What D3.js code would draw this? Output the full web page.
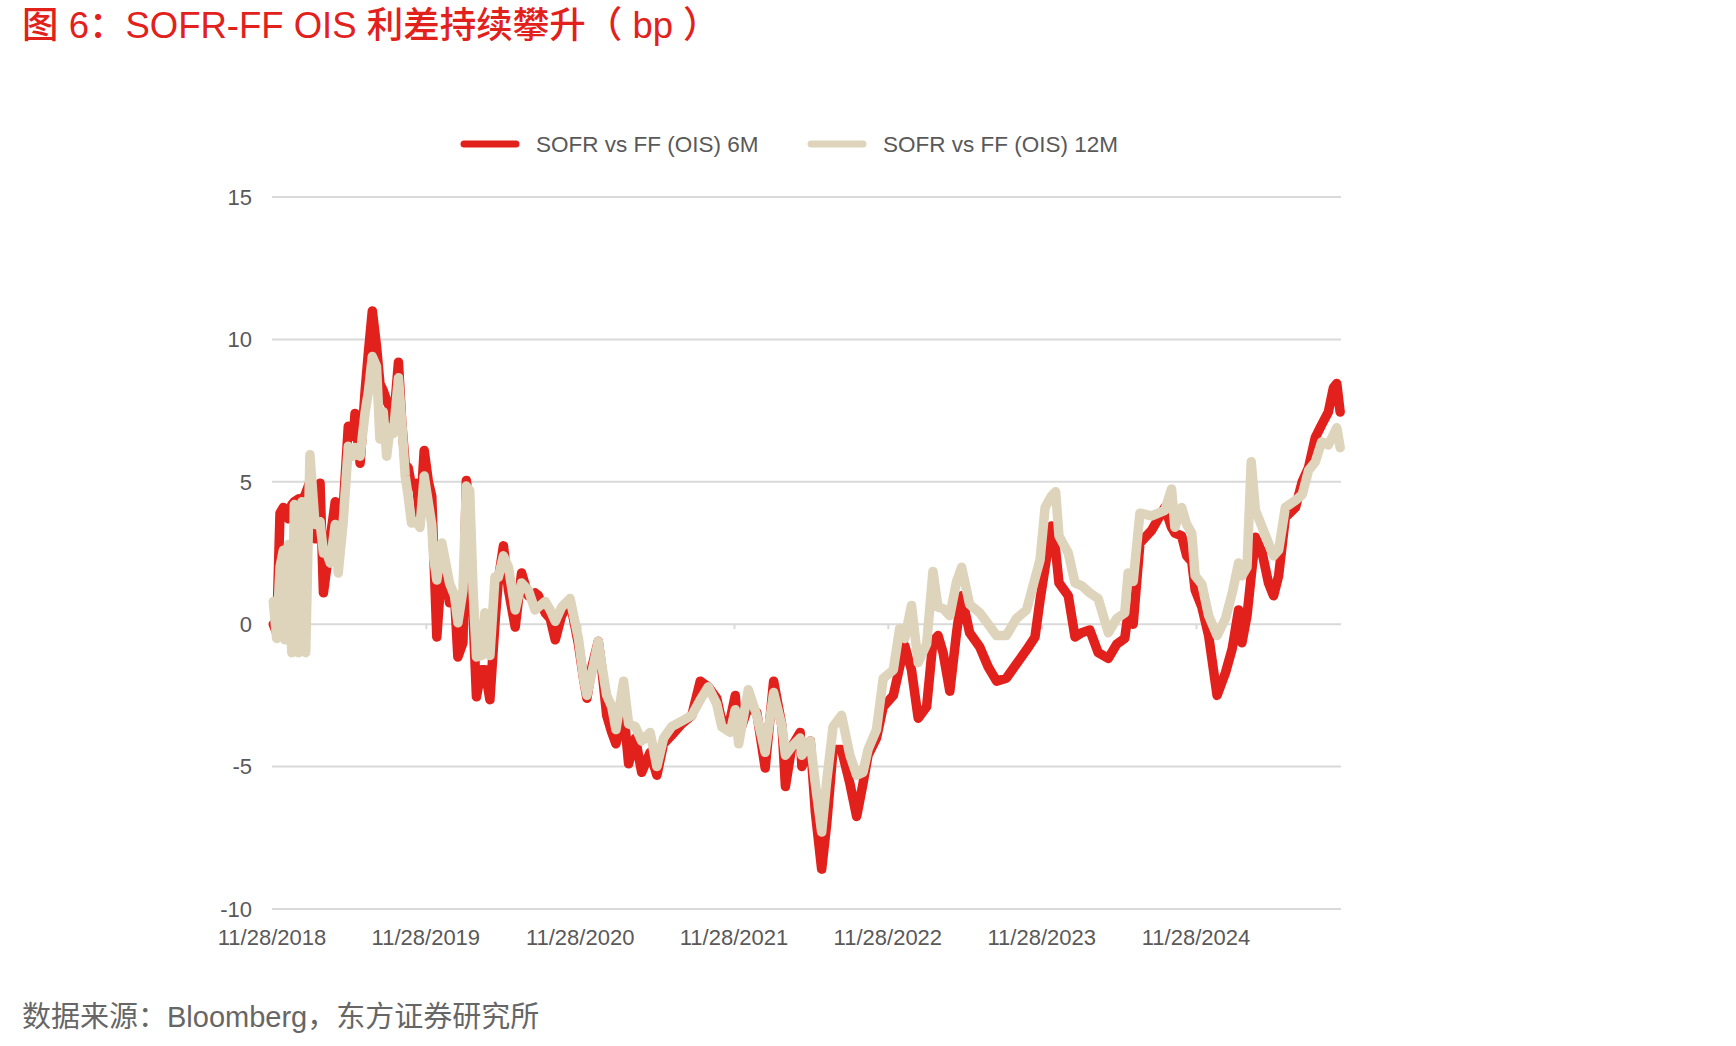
<!DOCTYPE html>
<html>
<head>
<meta charset="utf-8">
<script src="https://cdn.jsdelivr.net/npm/d3@7/dist/d3.min.js"></script>
<style>
  body { margin: 0; background: #fff; }
  text { font-family: "Liberation Sans", Arial, "Noto Sans CJK SC", sans-serif; }
</style>
</head>
<body>
<div id="chart"></div>
<script>
// 数据（从图上读取的估计值，bp）
const dates = [
  '2018-12-01','2018-12-09','2018-12-17','2018-12-25','2018-12-29','2019-01-06','2019-01-14','2019-01-20','2019-01-30','2019-02-07',
  '2019-02-16','2019-02-26','2019-03-10','2019-03-22','2019-03-30','2019-04-07','2019-04-15','2019-04-27','2019-05-04','2019-05-16',
  '2019-05-28','2019-06-09','2019-06-13','2019-06-25','2019-07-07','2019-07-15','2019-07-24','2019-08-03','2019-08-11','2019-08-19',
  '2019-08-27','2019-09-04','2019-09-12','2019-09-24','2019-10-02','2019-10-10','2019-10-17','2019-10-25','2019-11-06','2019-11-14',
  '2019-11-24','2019-12-04','2019-12-12','2019-12-16','2019-12-24','2020-01-05','2020-01-16','2020-01-23','2020-02-04','2020-02-12',
  '2020-02-24','2020-03-03','2020-03-11','2020-03-19','2020-03-27','2020-04-08','2020-04-16','2020-04-28','2020-05-10','2020-05-18',
  '2020-05-30','2020-06-11','2020-06-27','2020-07-12','2020-07-28','2020-08-13','2020-08-21','2020-09-06','2020-09-18','2020-09-30',
  '2020-10-15','2020-11-04','2020-11-24','2020-12-06','2020-12-14','2020-12-26','2021-01-10','2021-01-18','2021-01-30','2021-02-11',
  '2021-02-21','2021-03-11','2021-03-23','2021-04-08','2021-04-23','2021-05-13','2021-05-29','2021-06-14','2021-07-03','2021-07-27',
  '2021-08-20','2021-09-09','2021-09-28','2021-10-18','2021-10-30','2021-11-19','2021-12-01','2021-12-09','2022-01-01','2022-01-21',
  '2022-02-10','2022-03-02','2022-03-22','2022-03-30','2022-04-14','2022-05-04','2022-05-08','2022-05-28','2022-06-09','2022-06-24',
  '2022-07-06','2022-07-21','2022-08-10','2022-08-30','2022-09-15','2022-09-30','2022-10-12','2022-11-01','2022-11-17','2022-12-11',
  '2022-12-26','2023-01-07','2023-01-23','2023-02-08','2023-02-28','2023-03-15','2023-03-27','2023-04-08','2023-04-24','2023-05-10',
  '2023-05-22','2023-06-10','2023-07-04','2023-07-24','2023-08-13','2023-09-05','2023-09-29','2023-10-23','2023-11-12','2023-11-24',
  '2023-12-06','2023-12-21','2023-12-31','2024-01-08','2024-01-30','2024-02-15','2024-03-02','2024-03-21','2024-04-10','2024-05-04',
  '2024-05-24','2024-06-12','2024-06-20','2024-07-02','2024-07-18','2024-08-15','2024-09-15','2024-10-01','2024-10-09','2024-10-25',
  '2024-11-06','2024-11-18','2024-11-26','2024-12-12','2024-12-28','2025-01-17','2025-02-06','2025-02-22','2025-03-09','2025-03-17',
  '2025-03-29','2025-04-08','2025-04-18','2025-05-04','2025-05-19','2025-05-31','2025-06-12','2025-06-28','2025-07-22','2025-08-07',
  '2025-08-22','2025-09-07','2025-09-22','2025-10-08','2025-10-20','2025-10-28','2025-11-05'
];

const sofr6m = [
  0.0, -0.3, 3.9, 4.1, 3.9, 3.7, 4.2, 4.3, 4.4, 4.3,
  4.6, 5.0, 3.0, 4.95, 1.1, 2.0, 3.0, 4.3, 3.0, 4.1,
  6.95, 6.6, 7.4, 5.65, 8.2, 9.6, 11.0, 9.75, 8.45, 8.2,
  7.85, 7.6, 7.05, 9.2, 7.05, 5.6, 5.5, 4.85, 4.95, 3.65,
  6.1, 5.0, 4.5, 2.8, -0.45, 2.1, 1.7, 0.75, 1.0, -1.15,
  -0.65, 5.05, 4.0, 0.3, -2.55, -1.6, -1.6, -2.65, 0.05, 1.55,
  2.75, 1.2, -0.1, 1.8, 1.0, 1.1, 1.0, 0.4, 0.2, -0.55,
  0.3, 0.8, -0.7, -1.9, -2.6, -1.5, -0.6, -1.5, -3.2, -3.8,
  -4.2, -3.0, -4.9, -4.0, -5.2, -4.5, -5.3, -4.2, -3.9, -3.5,
  -3.2, -2.0, -2.2, -2.6, -3.4, -3.35, -2.5, -3.9, -2.9, -3.1,
  -5.05, -2.0, -3.6, -5.7, -4.3, -3.8, -5.0, -4.1, -6.6, -8.6,
  -7.0, -4.4, -4.4, -5.6, -6.75, -5.6, -4.6, -4.0, -2.9, -2.5,
  -1.5, -0.75, -1.6, -3.3, -2.9, -0.6, -0.4, -1.0, -2.35, -0.3,
  1.0, -0.3, -0.8, -1.5, -2.0, -1.9, -1.4, -0.9, -0.45, 0.85,
  2.0, 3.45, 2.6, 1.45, 1.0, -0.45, -0.3, -0.2, -1.0, -1.2,
  -0.7, -0.5, 0.4, 0.0, 2.85, 3.3, 4.1, 3.4, 3.2, 3.1,
  2.4, 2.2, 1.2, 0.6, -0.4, -2.5, -1.7, -0.85, 0.5, -0.65,
  0.3, 1.7, 3.05, 2.5, 1.45, 1.0, 1.7, 3.75, 4.1, 5.0,
  5.5, 6.55, 7.0, 7.45, 8.3, 8.45, 7.45
];

const sofr12m = [
  0.8, -0.5, 2.0, 2.6, -0.55, 2.8, -1.0, 4.2, -1.0, 4.3,
  -1.0, 5.95, 3.5, 3.6, 2.5, 2.5, 2.15, 3.5, 1.8, 3.6,
  6.25, 5.9, 6.2, 5.9, 7.45, 8.2, 9.4, 9.05, 6.5, 7.45,
  5.9, 6.9, 6.7, 8.65, 7.05, 5.2, 4.5, 3.55, 3.6, 3.4,
  5.2, 4.25, 3.5, 2.4, 1.55, 2.85, 2.0, 1.45, 1.0, 0.05,
  1.2, 4.85, 4.7, 1.2, -1.15, -1.1, 0.4, -1.1, 1.65, 1.65,
  2.4, 2.0, 0.5, 1.45, 1.2, 0.5, 0.6, 0.8, 0.5, 0.1,
  0.6, 0.9, -0.5, -1.9, -2.5, -1.7, -0.6, -1.4, -2.5, -2.9,
  -3.7, -2.0, -3.5, -3.6, -4.1, -3.8, -5.0, -4.0, -3.6, -3.4,
  -3.2, -2.65, -2.2, -2.8, -3.6, -3.8, -3.0, -4.2, -2.3, -3.2,
  -4.5, -2.4, -3.6, -4.6, -4.3, -4.0, -4.6, -4.1, -5.6, -7.3,
  -5.5, -3.6, -3.2, -4.6, -5.3, -5.2, -4.4, -3.7, -1.9, -1.6,
  -0.15, -0.5, 0.66, -1.35, -0.7, 1.85, 0.6, 0.55, 0.3, 1.5,
  2.0, 0.7, 0.4, 0.0, -0.4, -0.4, 0.2, 0.5, 1.6, 2.25,
  4.1, 4.5, 4.65, 3.1, 2.5, 1.45, 1.35, 1.1, 0.9, -0.3,
  0.2, 0.4, 1.8, 1.5, 3.9, 3.8, 4.0, 4.75, 3.4, 4.1,
  3.5, 3.2, 1.7, 1.4, 0.3, -0.4, 0.2, 1.1, 2.15, 1.7,
  2.0, 5.7, 4.0, 3.4, 2.85, 2.4, 2.6, 4.1, 4.35, 4.55,
  5.4, 5.7, 6.4, 6.3, 6.65, 6.9, 6.2
];

const yTicks = [-10, -5, 0, 5, 10, 15];
const xTickLabels = ['11/28/2018', '11/28/2019', '11/28/2020', '11/28/2021', '11/28/2022', '11/28/2023', '11/28/2024'];
const seriesNames = ['SOFR vs FF (OIS) 6M', 'SOFR vs FF (OIS) 12M'];
const seriesColors = ['#e3211c', '#ded4bb'];

const titleText = '图 6：SOFR-FF OIS 利差持续攀升（ bp ）';
const sourceText = '数据来源：Bloomberg，东方证券研究所';

// 尺寸
const width = 1736;
const height = 1046;
const plot = { left: 272, right: 1341, top: 197, bottom: 909 };

const svg = d3.select('#chart')
  .append('svg')
  .attr('width', width)
  .attr('height', height);

const parseDay = d3.timeParse('%Y-%m-%d');
const parseTick = d3.timeParse('%m/%d/%Y');

const x = d3.scaleTime()
  .domain([parseTick('11/28/2018'), parseDay('2025-11-07')])
  .range([plot.left, plot.right]);

const y = d3.scaleLinear()
  .domain([-10, 15])
  .range([plot.bottom, plot.top]);

// 网格线
svg.append('g')
  .selectAll('line')
  .data(yTicks)
  .enter()
  .append('line')
  .attr('x1', plot.left)
  .attr('x2', plot.right)
  .attr('y1', d => y(d))
  .attr('y2', d => y(d))
  .attr('stroke', '#d9d9d9')
  .attr('stroke-width', 2);

// y 轴标签
svg.append('g')
  .selectAll('text')
  .data(yTicks)
  .enter()
  .append('text')
  .attr('x', plot.left - 20)
  .attr('y', d => y(d))
  .attr('dy', '0.35em')
  .attr('text-anchor', 'end')
  .style('font-size', '22px')
  .style('fill', '#595959')
  .text(d => d);

// x 轴（在 0 线上的小刻度）
const xTicks = xTickLabels.map(parseTick);
const xAxis = d3.axisBottom(x)
  .tickValues(xTicks)
  .tickSize(5)
  .tickFormat('');
svg.append('g')
  .attr('transform', `translate(0,${y(0)})`)
  .call(xAxis)
  .call(g => g.select('.domain').remove())
  .call(g => g.selectAll('.tick line').attr('stroke', '#d9d9d9').attr('stroke-width', 2));

// x 轴标签
svg.append('g')
  .selectAll('text')
  .data(xTickLabels)
  .enter()
  .append('text')
  .attr('x', d => x(parseTick(d)))
  .attr('y', plot.bottom + 36)
  .attr('text-anchor', 'middle')
  .style('font-size', '22px')
  .style('fill', '#595959')
  .text(d => d);

// 折线
const series = [sofr6m, sofr12m].map(vals => dates.map((d, i) => ({ date: parseDay(d), value: vals[i] })));

const line = d3.line()
  .x(d => x(d.date))
  .y(d => y(d.value));

svg.append('g')
  .selectAll('path')
  .data(series)
  .enter()
  .append('path')
  .attr('d', line)
  .attr('fill', 'none')
  .attr('stroke', (d, i) => seriesColors[i])
  .attr('stroke-width', 9.5)
  .attr('stroke-linejoin', 'round')
  .attr('stroke-linecap', 'round');

// 图例
const legendX = [460, 807];
const legend = svg.append('g')
  .selectAll('g')
  .data(seriesNames)
  .enter()
  .append('g')
  .attr('transform', (d, i) => `translate(${legendX[i]},144)`);

legend.append('line')
  .attr('x1', 4)
  .attr('x2', 56)
  .attr('stroke', (d, i) => seriesColors[i])
  .attr('stroke-width', 7)
  .attr('stroke-linecap', 'round');

legend.append('text')
  .attr('x', 76)
  .attr('dy', '0.35em')
  .style('font-size', '22.5px')
  .style('fill', '#595959')
  .text(d => d);

// 标题
svg.append('text')
  .attr('x', 22)
  .attr('y', 38)
  .style('font-size', '36.5px')
  .style('font-weight', 500)
  .style('fill', '#e3211c')
  .text(titleText);

// 数据来源
svg.append('text')
  .attr('x', 22)
  .attr('y', 1027)
  .style('font-size', '29px')
  .style('fill', '#666666')
  .text(sourceText);
</script>
</body>
</html>
